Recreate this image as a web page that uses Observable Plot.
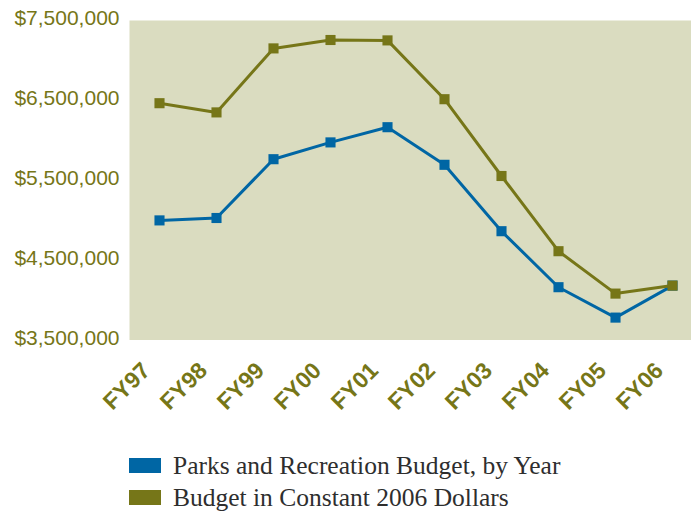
<!DOCTYPE html>
<html>
<head>
<meta charset="utf-8">
<script src="https://cdn.jsdelivr.net/npm/d3@7"></script>
<script src="https://cdn.jsdelivr.net/npm/@observablehq/plot@0.6"></script>
<style>
  html, body { margin: 0; padding: 0; background: #ffffff; }
  #chart { width: 691px; }
  .legend { position: relative; width: 691px; font-family: "Liberation Serif", "DejaVu Serif", serif; color: #2e2e2e; }
  .legend .row { position: relative; height: 32px; }
  .legend .sw { position: absolute; left: 129px; top: 8px; width: 32px; height: 15px; }
  .legend .lab { position: absolute; left: 173px; top: 0; line-height: 32px; font-size: 25.5px; white-space: nowrap; }
</style>
</head>
<body>
<div id="chart"></div>
<script>
const years = ["FY97", "FY98", "FY99", "FY00", "FY01", "FY02", "FY03", "FY04", "FY05", "FY06"];
const budget = [4970000, 5000000, 5735000, 5945000, 6135000, 5665000, 4835000, 4135000, 3755000, 4155000];
const constant2006 = [6435000, 6320000, 7120000, 7225000, 7220000, 6485000, 5525000, 4585000, 4055000, 4155000];
const yTicks = [3500000, 4500000, 5500000, 6500000, 7500000];
const seriesNames = ["Parks and Recreation Budget, by Year", "Budget in Constant 2006 Dollars"];

const blue = "#0066a4";
const olive = "#767618";
const bg = "#dadcc0";

const rowsBudget = years.map((y, i) => ({year: y, value: budget[i]}));
const rowsConst = years.map((y, i) => ({year: y, value: constant2006[i]}));

const chart = Plot.plot({
  width: 691,
  height: 450,
  marginLeft: 129,
  marginRight: 0,
  marginTop: 17.5,
  marginBottom: 112.5,
  style: {fontFamily: "'Liberation Sans', Arial, sans-serif", background: "#ffffff"},
  x: {type: "point", domain: years, range: [158.5, 672], padding: 0, axis: null},
  y: {domain: [3500000, 7500000], axis: null},
  marks: [
    Plot.frame({fill: bg, stroke: "none", insetTop: 2.5, insetBottom: -2}),
    Plot.axisY({ticks: yTicks, tickFormat: d3.format("$,"), tickSize: 0, tickPadding: 10, fontSize: 21, fill: olive, label: null}),
    Plot.text(years, {x: d => d, frameAnchor: "bottom", rotate: -45, textAnchor: "end", lineAnchor: "bottom", dx: -8, dy: 34, fontSize: 23, fontWeight: "bold", fill: olive}),
    Plot.line(rowsBudget, {x: "year", y: "value", stroke: blue, strokeWidth: 3}),
    Plot.dot(rowsBudget, {x: "year", y: "value", symbol: "square", r: 5.7, fill: blue, stroke: "none"}),
    Plot.line(rowsConst, {x: "year", y: "value", stroke: olive, strokeWidth: 3}),
    Plot.dot(rowsConst, {x: "year", y: "value", symbol: "square", r: 5.7, fill: olive, stroke: "none"})
  ]
});
document.getElementById("chart").appendChild(chart);

const legend = document.createElement("div");
legend.className = "legend";
[[seriesNames[0], blue], [seriesNames[1], olive]].forEach(([name, color]) => {
  const row = document.createElement("div");
  row.className = "row";
  const sw = document.createElement("span");
  sw.className = "sw";
  sw.style.background = color;
  const lab = document.createElement("span");
  lab.className = "lab";
  lab.textContent = name;
  row.appendChild(sw);
  row.appendChild(lab);
  legend.appendChild(row);
});
document.getElementById("chart").appendChild(legend);
</script>
</body>
</html>
